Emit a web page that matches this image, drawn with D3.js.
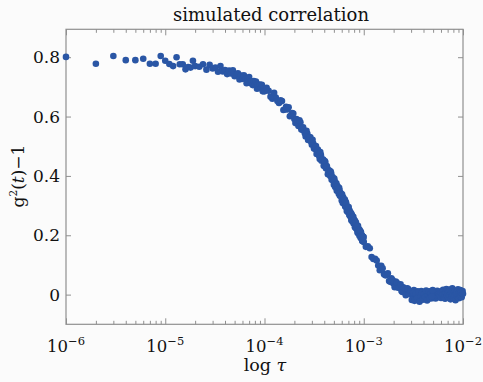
<!DOCTYPE html>
<html>
  <head>
    <meta charset="utf-8" />
    <title>simulated correlation</title>
    <script src="https://cdn.jsdelivr.net/npm/d3@7"></script>
    <style type="text/css">
      body { margin: 0; background: #fbfbfb; }
      svg { display: block; font-family: "DejaVu Serif", serif; }
    </style>
  </head>

  <body>
    <svg id="chart" width="483" height="382"></svg>
    <script type="text/javascript">
      // delay time in microseconds
      var tauUs = [
        1, 2, 3, 4, 5, 6, 7, 8, 9, 10, 11, 12, 13, 14, 15, 16, 17, 18, 19, 20,
        22, 24, 26, 28, 30, 32, 34, 36, 38, 40, 42, 44, 46, 48, 50, 52, 54, 56, 58, 60,
        62, 64, 66, 68, 70, 72, 74, 76, 78, 80, 82, 84, 86, 88, 90, 92, 94, 96, 98, 100,
        110, 120, 130, 140, 150, 160, 170, 180, 190, 200, 210, 220, 230, 240, 250,
        260, 270, 280, 290, 300, 310, 320, 330, 340, 350, 360, 370, 380, 390, 400,
        410, 420, 430, 440, 450, 460, 470, 480, 490, 500, 510, 520, 530, 540, 550,
        560, 570, 580, 590, 600, 610, 620, 630, 640, 650, 660, 670, 680, 690, 700,
        710, 720, 730, 740, 750, 760, 770, 780, 790, 800, 810, 820, 830, 840, 850,
        860, 870, 880, 890, 900, 910, 920, 930, 940, 950, 960, 970, 980, 990, 1000,
        1100, 1200, 1300, 1400, 1500, 1600, 1700, 1800, 1900, 2000,
        2100, 2200, 2300, 2400, 2500, 2600, 2700, 2800, 2900, 3000,
        3100, 3200, 3300, 3400, 3500, 3600, 3700, 3800, 3900, 4000,
        4100, 4200, 4300, 4400, 4500, 4600, 4700, 4800, 4900, 5000,
        5100, 5200, 5300, 5400, 5500, 5600, 5700, 5800, 5900, 6000,
        6100, 6200, 6300, 6400, 6500, 6600, 6700, 6800, 6900, 7000,
        7100, 7200, 7300, 7400, 7500, 7600, 7700, 7800, 7900, 8000,
        8100, 8200, 8300, 8400, 8500, 8600, 8700, 8800, 8900, 9000,
        9100, 9200, 9300, 9400, 9500, 9600, 9700, 9800, 9900, 10000,
        105, 115, 125, 135, 145, 155, 165, 175, 185, 195, 205, 215, 225, 235, 245,
        255, 265, 275, 285, 295, 305, 315, 325, 335, 345, 355, 365, 375, 385, 395,
        405, 415, 425, 435, 445, 455, 465, 475, 485, 495, 505, 515, 525, 535, 545,
        555, 565, 575, 585, 595, 605, 615, 625, 635, 645, 655, 665, 675, 685, 695,
        705, 715, 725, 735, 745, 755, 765, 775, 785, 795, 805, 815, 825, 835, 845,
        855, 865, 875, 885, 895, 905, 915, 925, 935, 945, 955, 965, 975, 985, 995,
        1050, 1150, 1250, 1350, 1450, 1550, 1650, 1750, 1850, 1950,
        2050, 2150, 2250, 2350, 2450, 2550, 2650, 2750, 2850, 2950,
        3050, 3150, 3250, 3350, 3450, 3550, 3650, 3750, 3850, 3950,
        4050, 4150, 4250, 4350, 4450, 4550, 4650, 4750, 4850, 4950
      ];
      // g2(t) - 1, same order as tauUs
      var g2 = [
        0.801, 0.778, 0.804, 0.790, 0.790, 0.795, 0.778, 0.778, 0.804, 0.788,
        0.777, 0.770, 0.800, 0.776, 0.776, 0.759, 0.767, 0.765, 0.788, 0.770,
        0.768, 0.776, 0.758, 0.774, 0.762, 0.765, 0.751, 0.770, 0.752, 0.757,
        0.743, 0.755, 0.745, 0.756, 0.736, 0.742, 0.746, 0.725, 0.738, 0.727,
        0.739, 0.727, 0.712, 0.729, 0.733, 0.713, 0.719, 0.706, 0.720, 0.708,
        0.718, 0.694, 0.708, 0.696, 0.708, 0.696, 0.707, 0.685, 0.695, 0.685,
        0.687, 0.660, 0.664, 0.646, 0.652, 0.624, 0.624, 0.601, 0.612, 0.592,
        0.592, 0.568, 0.581, 0.556, 0.553, 0.533, 0.543, 0.526, 0.530, 0.505,
        0.509, 0.492, 0.501, 0.480, 0.481, 0.457, 0.470, 0.455, 0.455, 0.434,
        0.447, 0.425, 0.425, 0.407, 0.418, 0.400, 0.408, 0.391, 0.391, 0.370,
        0.382, 0.367, 0.375, 0.352, 0.355, 0.340, 0.352, 0.335, 0.339, 0.317,
        0.327, 0.328, 0.309, 0.312, 0.297, 0.312, 0.293, 0.298, 0.278, 0.288,
        0.278, 0.283, 0.264, 0.270, 0.252, 0.269, 0.252, 0.254, 0.240, 0.251,
        0.239, 0.247, 0.225, 0.234, 0.222, 0.231, 0.208, 0.220, 0.212, 0.220,
        0.202, 0.206, 0.192, 0.207, 0.193, 0.198, 0.182, 0.189, 0.195, 0.177,
        0.163, 0.127, 0.121, 0.098, 0.097, 0.069, 0.066, 0.046, 0.055, 0.037,
        0.044, 0.024, 0.029, 0.012, 0.025, 0.015, 0.002, 0.019, 0.002, 0.010,
        -0.004, 0.015, -0.011, 0.001, 0.011, -0.016, 0.001, 0.012, -0.006, 0.006,
        -0.010, 0.008, -0.003, -0.015, 0.005, -0.007, 0.011, -0.002, -0.012, 0.004,
        -0.006, 0.009, -0.013, 0.001, 0.013, -0.008, 0.003, -0.004, 0.010, -0.011,
        0.006, -0.002, 0.016, -0.009, 0.002, -0.014, 0.008, 0.019, -0.005, 0.005,
        -0.010, 0.012, -0.001, 0.017, -0.016, 0.004, -0.007, 0.021, 0.000, -0.011,
        0.009, -0.004, 0.014, -0.019, 0.006, -0.002, 0.011, -0.008, 0.018, 0.003,
        -0.012, 0.007, -0.005, 0.015, -0.001, 0.010, -0.009, 0.004, 0.012, 0.003,
        0.697, 0.667, 0.680, 0.652, 0.655, 0.622, 0.633, 0.631, 0.603, 0.610,
        0.578, 0.586, 0.587, 0.556, 0.564, 0.544, 0.552, 0.521, 0.530, 0.515,
        0.522, 0.492, 0.498, 0.474, 0.489, 0.468, 0.480, 0.451, 0.455, 0.434,
        0.450, 0.427, 0.433, 0.406, 0.418, 0.405, 0.415, 0.387, 0.396, 0.383,
        0.391, 0.363, 0.371, 0.350, 0.365, 0.348, 0.360, 0.333, 0.342, 0.330,
        0.338, 0.309, 0.323, 0.306, 0.320, 0.299, 0.308, 0.282, 0.293, 0.280,
        0.295, 0.268, 0.278, 0.267, 0.275, 0.249, 0.262, 0.246, 0.262, 0.242,
        0.251, 0.227, 0.238, 0.243, 0.222, 0.231, 0.212, 0.232, 0.212, 0.219,
        0.198, 0.216, 0.201, 0.212, 0.190, 0.199, 0.181, 0.196, 0.184, 0.194,
        0.161, 0.156, 0.120, 0.115, 0.082, 0.089, 0.065, 0.072, 0.043, 0.049,
        0.025, 0.041, 0.023, 0.035, 0.009, 0.022, -0.002, 0.021, 0.002, 0.012,
        -0.018, 0.006, -0.021, 0.003, -0.012, 0.009, -0.024, -0.004, 0.007, -0.017,
        0.002, -0.009, 0.014, -0.020, -0.001, 0.010, -0.013, 0.004, -0.006, 0.015
      ];
      var xTickVals = [1e-6, 1e-5, 1e-4, 1e-3, 1e-2];
      var xTickExp = ['\u22126', '\u22125', '\u22124', '\u22123', '\u22122'];
      var yTickVals = [0, 0.2, 0.4, 0.6, 0.8];
      var yTickLabels = ['0', '0.2', '0.4', '0.6', '0.8'];

      (function () {
        var data = tauUs.map(function (t, i) {
          return { tau: t * 1e-6, g: g2[i] };
        });

        var svg = d3.select('#chart');
        var pL = 66, pR = 463, pT = 29.3, pB = 324.3;
        var frameCol = '#8f8f8f';

        var scX = d3.scaleLog().domain([1e-6, 1e-2]).range([pL, pR]);
        var scY = d3.scaleLinear().domain([-0.1, 0.894]).range([pB, pT]);

        // plot frame
        svg.append('rect')
          .attr('x', pL).attr('y', pT)
          .attr('width', pR - pL).attr('height', pB - pT)
          .attr('fill', '#fcfcfc')
          .attr('stroke', frameCol).attr('stroke-width', 1.2);

        // ticks, all inward, mirrored on the opposite side
        var minor = scX.ticks().filter(function (v) {
          return xTickVals.every(function (m) { return Math.abs(v / m - 1) > 1e-6; });
        });
        var tickAxis = function (maker, vals, size, tr) {
          var g = svg.append('g')
            .attr('transform', tr)
            .call(maker.tickValues(vals).tickSize(size).tickFormat(''));
          g.select('.domain').remove();
          g.selectAll('line').attr('stroke', frameCol);
        };
        tickAxis(d3.axisBottom(scX), minor, -3.5, 'translate(0,' + pB + ')');
        tickAxis(d3.axisBottom(scX), xTickVals, -6, 'translate(0,' + pB + ')');
        tickAxis(d3.axisTop(scX), minor, -3.5, 'translate(0,' + pT + ')');
        tickAxis(d3.axisTop(scX), xTickVals, -6, 'translate(0,' + pT + ')');
        tickAxis(d3.axisLeft(scY), yTickVals, -5, 'translate(' + pL + ',0)');
        tickAxis(d3.axisRight(scY), yTickVals, -5, 'translate(' + pR + ',0)');

        // x tick labels 10^n
        var xl = svg.append('g').selectAll('text')
          .data(xTickVals)
          .enter()
          .append('text')
          .attr('x', function (d) { return scX(d); })
          .attr('y', 352)
          .attr('text-anchor', 'middle')
          .attr('font-size', 16.5)
          .attr('fill', '#111');
        xl.append('tspan').text('10');
        xl.append('tspan')
          .attr('dy', -7)
          .attr('font-size', 11.5)
          .text(function (d, i) { return xTickExp[i]; });

        // y tick labels
        svg.append('g').selectAll('text')
          .data(yTickVals)
          .enter()
          .append('text')
          .attr('x', 60)
          .attr('y', function (d) { return scY(d) + 6; })
          .attr('text-anchor', 'end')
          .attr('font-size', 17)
          .attr('fill', '#111')
          .text(function (d, i) { return yTickLabels[i]; });

        // points
        svg.append('g').selectAll('circle')
          .data(data)
          .enter()
          .append('circle')
          .attr('r', 3.3)
          .attr('cx', function (d) { return scX(d.tau); })
          .attr('cy', function (d) { return scY(d.g); })
          .attr('fill', '#2a56a5');

        // title
        svg.append('text')
          .attr('x', 271).attr('y', 21)
          .attr('text-anchor', 'middle')
          .attr('font-size', 18)
          .attr('fill', '#111')
          .text('simulated correlation');

        // x label
        var xt = svg.append('text')
          .attr('x', 265).attr('y', 371)
          .attr('text-anchor', 'middle')
          .attr('font-size', 17.5)
          .attr('fill', '#111');
        xt.append('tspan').text('log ');
        xt.append('tspan').attr('font-style', 'italic').text('\u03c4');

        // y label
        var yt = svg.append('text')
          .attr('transform', 'translate(24,176) rotate(-90)')
          .attr('text-anchor', 'middle')
          .attr('font-size', 17)
          .attr('fill', '#111');
        yt.append('tspan').text('g');
        yt.append('tspan').attr('dy', -7).attr('font-size', 10.5).text('2');
        yt.append('tspan').attr('dy', 7).text('(');
        yt.append('tspan').attr('font-style', 'italic').text('t');
        yt.append('tspan').text(')\u22121');
      })();
    </script>
  </body>
</html>
